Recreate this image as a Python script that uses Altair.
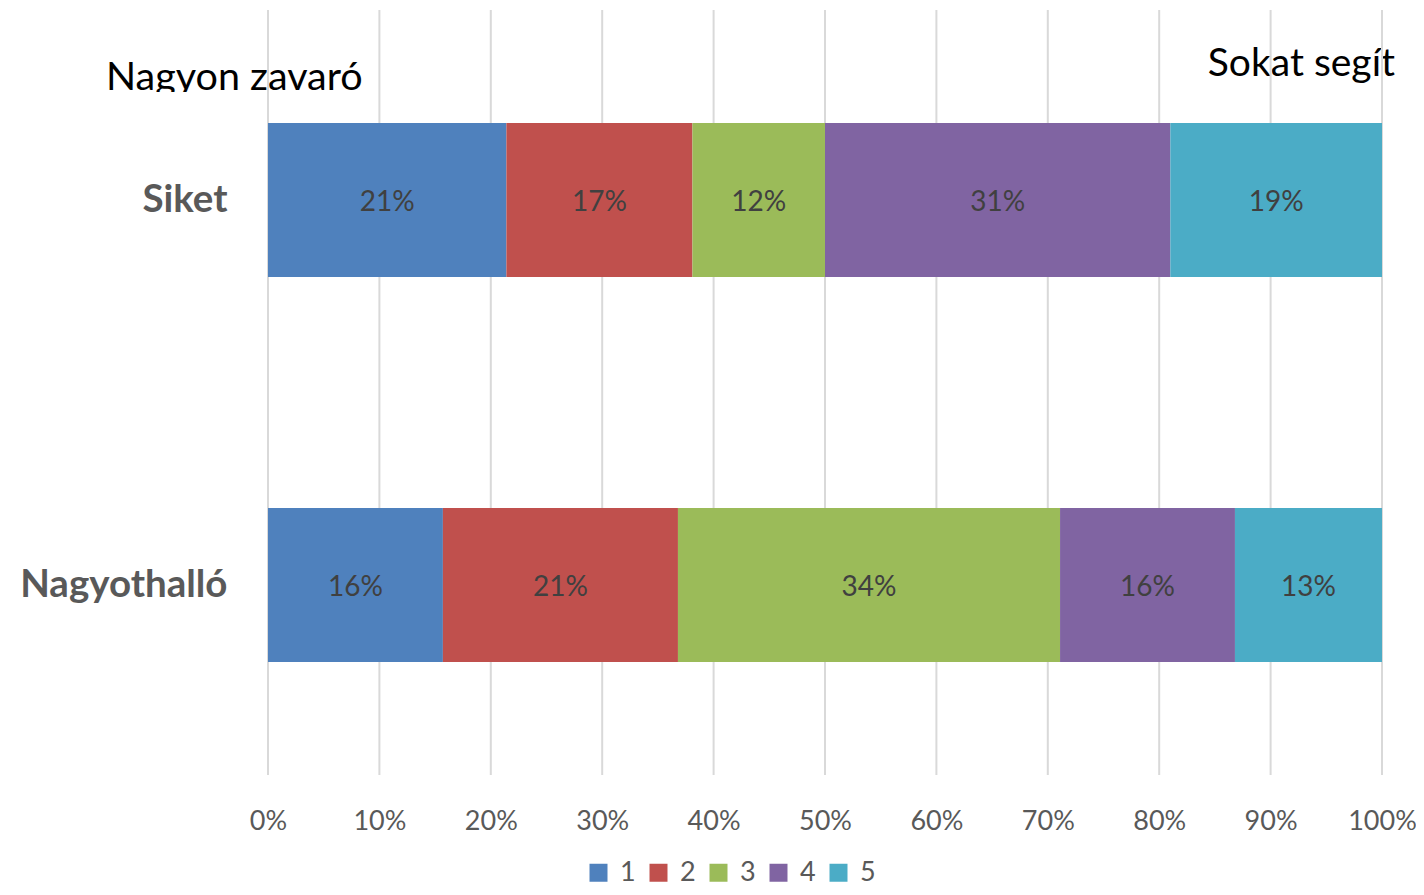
import altair as alt
import pandas as pd

groups = ["Siket", "Nagyothalló"]
categories = ["1", "2", "3", "4", "5"]
siket_values = [0.214, 0.167, 0.119, 0.310, 0.190]
nagyot_values = [0.157, 0.211, 0.343, 0.157, 0.132]
colors = ["#4F81BD", "#C0504D", "#9BBB59", "#8064A2", "#4BACC6"]
tick_values = [0, 0.1, 0.2, 0.3, 0.4, 0.5, 0.6, 0.7, 0.8, 0.9, 1.0]
left_note = "Nagyon zavaró"
right_note = "Sokat segít"

rows = []
for g, vals in zip(groups, [siket_values, nagyot_values]):
    for c, v in zip(categories, vals):
        rows.append({"group": g, "cat": c, "value": v})
df = pd.DataFrame(rows)
grid_df = pd.DataFrame({"t": tick_values})

W, H = 1114, 765
FONT = "Lato"

x_scale = alt.Scale(domain=[0, 1], nice=False, zero=True)
y_scale = alt.Scale(domain=groups, paddingInner=0.6, paddingOuter=0.2935)

x_axis = alt.Axis(format=".0%", values=tick_values, grid=False, domain=False,
                  ticks=False, labelFont=FONT, labelFontSize=27, labelFlush=False,
                  labelColor="#595959", labelPadding=33, title=None)
y_axis = alt.Axis(title=None, domain=False, ticks=False, labelFont=FONT,
                  labelFontSize=38.5, labelFontWeight="bold", labelLimit=400,
                  labelColor="#595959", labelPadding=41)

# annotation texts (top)
note_left = alt.Chart(pd.DataFrame({"t": [left_note]})).mark_text(
    font=FONT, fontSize=39.5, color="#000000", align="left", baseline="alphabetic"
).encode(text="t:N", x=alt.value(-162), y=alt.value(80))

note_right = alt.Chart(pd.DataFrame({"t": [right_note]})).mark_text(
    font=FONT, fontSize=39, color="#000000", align="right", baseline="alphabetic"
).encode(text="t:N", x=alt.value(1127), y=alt.value(66))

# clipping box below the left note (as in the original)
clip_box = alt.Chart(pd.DataFrame({"t": [0]})).mark_rect(color="white").encode(
    x=alt.value(-170), x2=alt.value(120), y=alt.value(82), y2=alt.value(104)
)

grid = alt.Chart(grid_df).mark_rule(color="#D9D9D9", strokeWidth=2).encode(
    x=alt.X("t:Q", scale=x_scale, axis=x_axis),
    y=alt.value(0), y2=alt.value(H),
)

base = alt.Chart(df).transform_calculate(
    order="toNumber(datum.cat)"
).transform_stack(
    stack="value", groupby=["group"], as_=["x0", "x1"],
    sort=[alt.SortField("order", order="ascending")]
).transform_calculate(mid="(datum.x0 + datum.x1) / 2")

bars = base.mark_bar().encode(
    x=alt.X("x0:Q", scale=x_scale, axis=x_axis),
    x2="x1:Q",
    y=alt.Y("group:N", scale=y_scale, sort=groups, axis=y_axis),
    color=alt.Color("cat:N", scale=alt.Scale(domain=categories, range=colors),
                    legend=alt.Legend(title=None, orient="none", direction="horizontal",
                                      legendX=317, legendY=849, symbolType="square",
                                      symbolSize=324, symbolStrokeWidth=0,
                                      labelFont=FONT, labelFontSize=27,
                                      labelColor="#595959", labelOffset=8,
                                      columnPadding=9)),
)

labels = base.mark_text(font=FONT, fontSize=28, color="#404040", dy=3).encode(
    x=alt.X("mid:Q", scale=x_scale, axis=x_axis),
    y=alt.Y("group:N", scale=y_scale, sort=groups, axis=y_axis),
    text=alt.Text("value:Q", format=".0%"),
)

chart = alt.layer(note_left, note_right, clip_box, grid, bars, labels).properties(
    width=W, height=H,
    autosize=alt.AutoSizeParams(type="none"),
    padding={"left": 260, "top": 2, "right": 34, "bottom": 112},
).configure_view(stroke=None).resolve_scale(x="shared", y="shared")

chart.save("out.html", embed_options={"renderer": "svg", "actions": False})
